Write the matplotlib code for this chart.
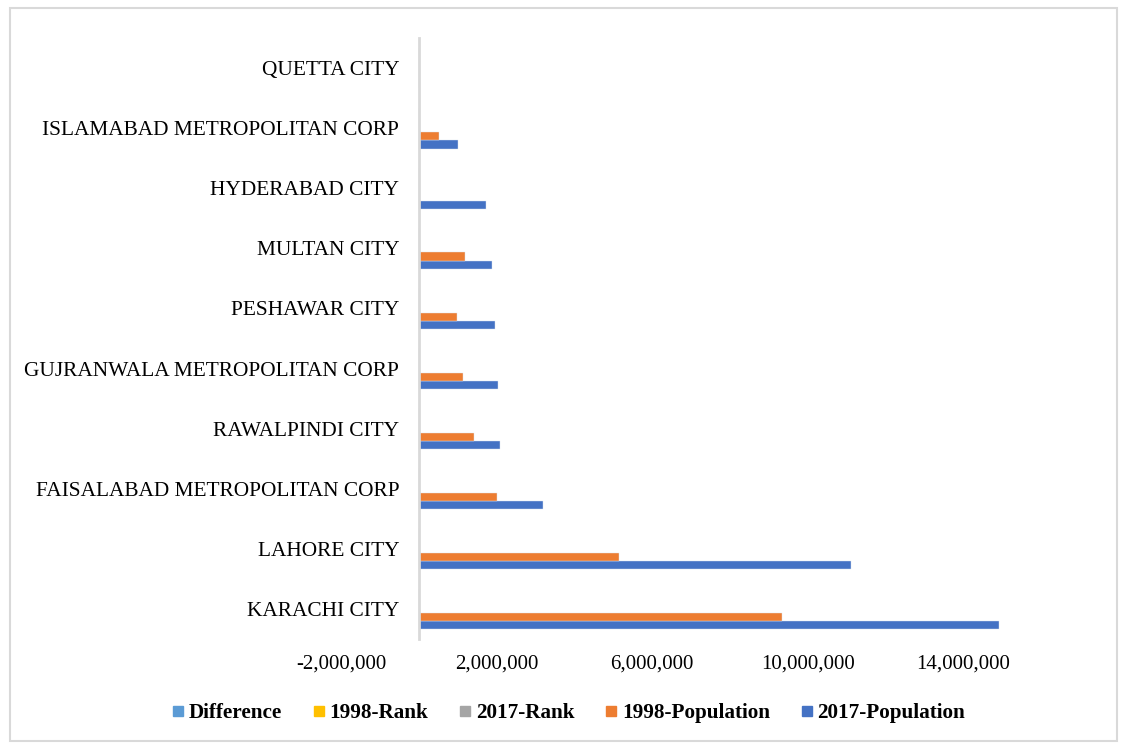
import matplotlib

matplotlib.use("Agg")
import matplotlib.pyplot as plt
from matplotlib.lines import Line2D
from matplotlib.patches import Rectangle
import numpy as np

plt.rcParams["font.family"] = ["Liberation Serif", "DejaVu Serif"]

# bottom to top, as drawn
cities = [
    "KARACHI CITY",
    "LAHORE CITY",
    "FAISALABAD METROPOLITAN CORP",
    "RAWALPINDI CITY",
    "GUJRANWALA METROPOLITAN CORP",
    "PESHAWAR CITY",
    "MULTAN CITY",
    "HYDERABAD CITY",
    "ISLAMABAD METROPOLITAN CORP",
    "QUETTA CITY",
]
pop_2017 = [14910352, 11126285, 3204726, 2098231, 2027001,
            1970042, 1871843, 1732693, 1014825, 0]
pop_1998 = [9339023, 5143495, 2008861, 1409768, 1132509,
            982816, 1197384, 0, 529180, 0]
rank_2017 = [1, 2, 3, 4, 5, 6, 7, 8, 9, 10]
rank_1998 = [1, 2, 3, 4, 7, 8, 5, 6, 10, 9]
difference = [0, 0, 0, 0, 2, 2, -2, -2, 1, -1]

# drawn bottom-up inside each group
series = [
    ("2017-Population", pop_2017, "#4472C4"),
    ("1998-Population", pop_1998, "#ED7D31"),
    ("2017-Rank", rank_2017, "#A5A5A5"),
    ("1998-Rank", rank_1998, "#FFC000"),
    ("Difference", difference, "#5B9BD5"),
]

fig = plt.figure(figsize=(11.22, 7.44), dpi=100)
ax = fig.add_axes([341 / 1122, 105 / 744, 700 / 1122, 601 / 744])

y = np.arange(len(cities))
h = 0.136
for i, (name, vals, color) in enumerate(series):
    ax.barh(y + (i - 2) * h, vals, height=h, color=color,
            edgecolor="#dde4f0", linewidth=0.3, label=name)

ax.set_xlim(-2_000_000, 16_000_000)
ax.set_ylim(-0.5, len(cities) - 0.5)
ax.set_yticks(y)
ax.set_yticklabels(cities)
xt = np.arange(-2_000_000, 14_000_001, 4_000_000)
ax.set_xticks(xt)
ax.set_xticklabels([f"{v:,.0f}" for v in xt])

for s in ("top", "right", "bottom"):
    ax.spines[s].set_visible(False)
ax.spines["left"].set_position(("data", 0))
ax.spines["left"].set_color("#d9d9d9")
ax.spines["left"].set_linewidth(2)
ax.tick_params(axis="y", length=0, pad=14, labelsize=15.4)
ax.tick_params(axis="x", length=0, pad=11, labelsize=15)

handles = [Line2D([], [], marker="s", linestyle="none", markersize=7,
                  color=c, label=n) for n, _, c in reversed(series)]
fig.legend(handles=handles, loc="center", bbox_to_anchor=(569 / 1122, 1 - 713 / 744),
           ncol=5, frameon=False, handlelength=0.5, handletextpad=0.25,
           columnspacing=1.5, prop={"size": 15.2, "weight": "bold"})

fig.patches.append(Rectangle((10 / 1122, 3 / 744), 1107 / 1122, 733 / 744,
                             transform=fig.transFigure, fill=False,
                             edgecolor="#d9d9d9", linewidth=1.5))

fig.savefig("out.png", dpi=100)
